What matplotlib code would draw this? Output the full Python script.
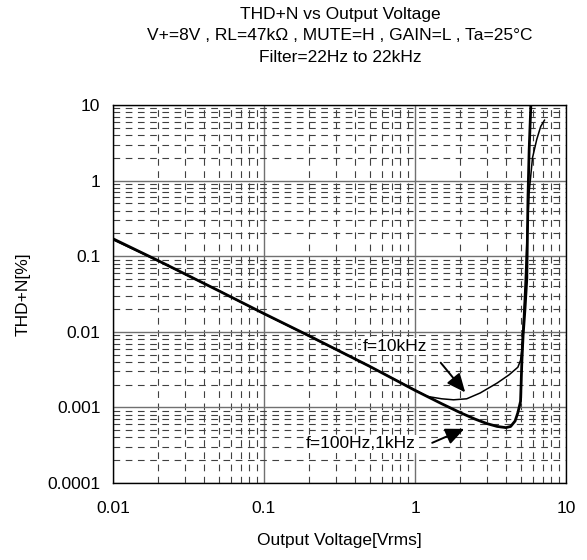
import numpy as np
import matplotlib.pyplot as plt
from matplotlib.ticker import LogLocator, NullFormatter, FixedLocator, FixedFormatter

plt.rcParams.update({
    "font.family": ["Liberation Sans", "DejaVu Sans"],
    "font.size": 12.5,
})

# =========================
# DATA
# =========================
# f=100Hz / 1kHz
v_low = [0.01, 0.02, 0.05, 0.1, 0.2, 0.5, 1.0, 1.5, 2.0, 2.5, 3.0, 3.5, 4.0,
         4.3, 4.6, 4.8, 5.0, 5.1, 5.2, 5.35, 5.5, 5.6, 5.7, 5.85]
thd_low = [0.17, 0.087, 0.035, 0.0174, 0.0088, 0.0035, 0.00168, 0.00112,
           0.00085, 0.00070, 0.00061, 0.00056, 0.00054, 0.00056, 0.00066,
           0.00085, 0.0012, 0.004, 0.009, 0.02, 0.05, 0.6, 2.5, 10.0]

# f=10kHz
v_10k = [0.01, 0.02, 0.05, 0.1, 0.2, 0.5, 1.0, 1.2, 1.5, 1.8, 2.2, 2.7, 3.5,
         4.2, 4.8, 5.0, 5.1, 5.2, 5.35, 5.5, 5.7, 6.0, 6.4, 6.8, 7.2]
thd_10k = [0.165, 0.086, 0.035, 0.0172, 0.0087, 0.0035, 0.0017, 0.0014,
           0.0013, 0.00126, 0.0013, 0.00155, 0.0021, 0.0027, 0.0034,
           0.0042, 0.006, 0.012, 0.04, 0.15, 0.7, 2.0, 3.5, 5.2, 6.3]

x_ticks = [0.01, 0.1, 1, 10]
x_labels = ["0.01", "0.1", "1", "10"]
y_ticks = [0.0001, 0.001, 0.01, 0.1, 1, 10]
y_labels = ["0.0001", "0.001", "0.01", "0.1", "1", "10"]

# =========================
# PLOT
# =========================
fig = plt.figure(figsize=(5.87, 5.60), dpi=100)
ax = fig.add_axes([113/587, 1 - 483/560, (566 - 113)/587, (483 - 105)/560])

ax.set_xscale("log")
ax.set_yscale("log")
ax.set_xlim(0.01, 10)
ax.set_ylim(0.0001, 10)

# grid
ax.xaxis.set_minor_locator(LogLocator(base=10, subs=np.arange(2, 10)))
ax.yaxis.set_minor_locator(LogLocator(base=10, subs=np.arange(2, 10)))
ax.xaxis.set_minor_formatter(NullFormatter())
ax.yaxis.set_minor_formatter(NullFormatter())
ax.grid(which="major", color="#707070", linewidth=1.0, linestyle="-")
ax.grid(which="minor", color="#404040", linewidth=0.8, linestyle=(0, (6, 5)))
ax.set_axisbelow(True)

ax.xaxis.set_major_locator(FixedLocator(x_ticks))
ax.xaxis.set_major_formatter(FixedFormatter(x_labels))
ax.yaxis.set_major_locator(FixedLocator(y_ticks))
ax.yaxis.set_major_formatter(FixedFormatter(y_labels))
ax.tick_params(which="both", length=0)
ax.tick_params(axis="x", pad=13)
ax.tick_params(axis="y", pad=9)

for s in ax.spines.values():
    s.set_color("black")
    s.set_linewidth(1.0)

# curves
ax.plot(v_low, thd_low, color="black", linewidth=2.0, zorder=3)
ax.plot(v_10k, thd_10k, color="black", linewidth=1.1, zorder=3)

# annotations
arrow = dict(arrowstyle="-|>,head_length=0.9,head_width=0.4",
             color="black", lw=1.4, shrinkA=0, shrinkB=0)
ax.annotate("", xy=(2.15, 0.00158), xytext=(1.48, 0.0039),
            arrowprops=arrow, zorder=4)
ax.text(0.45, 0.0064, "f=10kHz", ha="left", va="center",
        bbox=dict(facecolor="white", edgecolor="none", pad=1.0), zorder=4)

ax.annotate("", xy=(2.12, 0.00052), xytext=(1.30, 0.00034),
            arrowprops=arrow, zorder=4)
ax.text(0.19, 0.00033, "f=100Hz,1kHz", ha="left", va="center",
        bbox=dict(facecolor="white", edgecolor="none", pad=1.0), zorder=4)

ax.set_xlabel("Output Voltage[Vrms]", labelpad=12)
ax.set_ylabel("THD+N[%]", labelpad=12)

fig.text(340/587, 1 - 15/560, "THD+N vs Output Voltage", ha="center", va="center")
fig.text(340/587, 1 - 36/560, "V+=8V , RL=47k\u03a9 , MUTE=H , GAIN=L , Ta=25\u00b0C",
         ha="center", va="center")
fig.text(340/587, 1 - 57/560, "Filter=22Hz to 22kHz", ha="center", va="center")

fig.savefig("out.png", dpi=100)
